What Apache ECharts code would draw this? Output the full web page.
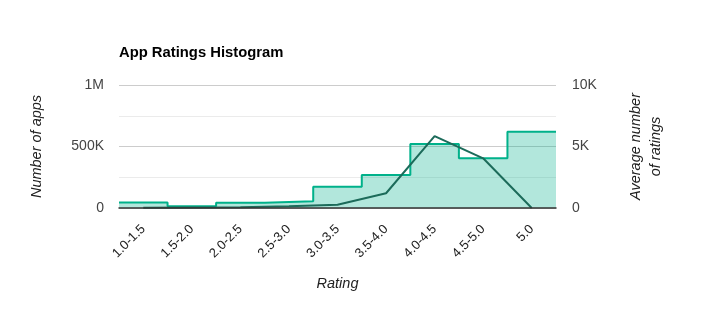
<!DOCTYPE html>
<html>
<head>
<meta charset="utf-8">
<script src="https://cdn.jsdelivr.net/npm/echarts@6/dist/echarts.min.js"></script>
<style>
  html, body { margin: 0; padding: 0; background: #fff; }
  #chart { width: 701px; height: 324px; }
</style>
</head>
<body>
<div id="chart"></div>
<script>
// Rating buckets
const categories = ['1.0-1.5', '1.5-2.0', '2.0-2.5', '2.5-3.0', '3.0-3.5', '3.5-4.0', '4.0-4.5', '4.5-5.0', '5.0'];
// Number of apps in each bucket (left axis)
const appCounts = [45000, 15000, 43000, 55000, 173000, 268000, 520000, 404000, 620000];
// Average number of ratings per app in each bucket (right axis)
const avgRatings = [20, 40, 60, 150, 270, 1200, 5850, 4040, 0];
// Axis tick labels
const leftTicks = { 0: '0', 500000: '500K', 1000000: '1M' };
const rightTicks = { 0: '0', 5000: '5K', 10000: '10K' };

// Histogram steps: each bucket spans [i, i+1] on a hidden value axis
const stepData = appCounts.map((v, i) => [i, v]);
stepData.push([categories.length, appCounts[appCounts.length - 1]]);

const font = 'Liberation Sans, Arial, sans-serif';
const chart = echarts.init(document.getElementById('chart'), null, { renderer: 'canvas' });

chart.setOption({
  animation: false,
  title: {
    text: 'App Ratings Histogram',
    left: 114, top: 40,
    textStyle: { fontFamily: font, fontSize: 14.8, fontWeight: 'bold', color: '#000' }
  },
  grid: { left: 119, right: 145, top: 85, bottom: 116 },
  xAxis: [
    {
      type: 'category',
      data: categories,
      boundaryGap: true,
      name: 'Rating',
      nameLocation: 'middle',
      nameGap: 68,
      nameTextStyle: { fontFamily: font, fontSize: 14.5, fontStyle: 'italic', color: '#222' },
      axisLine: { show: true, lineStyle: { color: '#333', width: 1.5 } },
      axisTick: { show: false },
      axisLabel: { rotate: 45, margin: 19, fontFamily: font, fontSize: 13, color: '#222' },
      z: 10
    },
    {
      type: 'value',
      min: 0, max: categories.length,
      show: false
    }
  ],
  yAxis: [
    {
      type: 'value',
      min: 0, max: 1000000, interval: 500000,
      name: 'Number of apps',
      nameLocation: 'middle',
      nameGap: 75,
      nameRotate: 90,
      nameTextStyle: { fontFamily: font, fontSize: 14.5, fontStyle: 'italic', color: '#222' },
      axisLine: { show: false },
      axisTick: { show: false },
      axisLabel: { margin: 15, fontFamily: font, fontSize: 14, color: '#444', formatter: v => leftTicks[v] ?? '' },
      splitLine: { show: true, lineStyle: { color: '#cccccc', width: 1 } },
      minorTick: { show: false, splitNumber: 2 },
      minorSplitLine: { show: true, lineStyle: { color: '#ebebeb', width: 1 } }
    },
    {
      type: 'value',
      min: 0, max: 10000, interval: 5000,
      name: 'Average number\nof ratings',
      nameLocation: 'middle',
      nameGap: 70,
      nameRotate: 90,
      nameTextStyle: { fontFamily: font, fontSize: 14.5, fontStyle: 'italic', color: '#222', lineHeight: 20 },
      axisLine: { show: false },
      axisTick: { show: false },
      axisLabel: { margin: 16, fontFamily: font, fontSize: 14, color: '#444', formatter: v => rightTicks[v] ?? '' },
      splitLine: { show: false }
    }
  ],
  series: [
    {
      name: 'Number of apps',
      type: 'line',
      xAxisIndex: 1,
      yAxisIndex: 0,
      step: 'end',
      data: stepData,
      symbol: 'none',
      lineStyle: { color: '#00b18a', width: 2 },
      areaStyle: { color: 'rgba(0,177,138,0.3)', opacity: 1, origin: 'start' },
      z: 2
    },
    {
      name: 'Average number of ratings',
      type: 'line',
      xAxisIndex: 0,
      yAxisIndex: 1,
      data: avgRatings,
      symbol: 'none',
      lineStyle: { color: '#1c6b5a', width: 2 },
      z: 3
    }
  ]
});
</script>
</body>
</html>
